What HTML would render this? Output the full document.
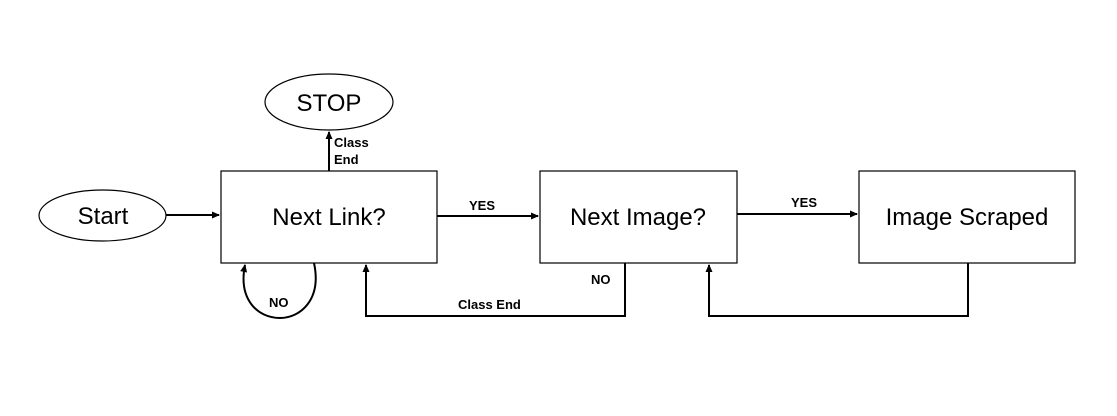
<!DOCTYPE html>
<html><head><style>body{margin:0;background:#fff}</style></head><body>
<svg width="1117" height="411" xmlns="http://www.w3.org/2000/svg" font-family="Liberation Sans, sans-serif">
<defs><marker id="a" markerWidth="8" markerHeight="8" refX="7" refY="4" orient="auto" markerUnits="userSpaceOnUse"><path d="M0,0.5 L8,4 L0,7.5z" fill="#000"/></marker></defs>
<rect width="1117" height="411" fill="#fff"/>
<g fill="#fff" stroke="#000" stroke-width="1.2">
<ellipse cx="329" cy="102" rx="64" ry="28"/>
<ellipse cx="102.5" cy="215.5" rx="63.5" ry="25.5"/>
<rect x="221" y="171" width="216" height="92"/>
<rect x="540" y="171" width="197" height="92"/>
<rect x="859" y="171" width="216" height="92"/>
</g>
<g stroke="#000" stroke-width="2" fill="none" marker-end="url(#a)">
<line x1="329" y1="171" x2="329" y2="132"/>
<line x1="166" y1="215" x2="219" y2="215"/>
<line x1="437" y1="216" x2="538" y2="216"/>
<line x1="737" y1="214" x2="857" y2="214"/>
<path d="M314,263 C322,300 300,318 280,318 C258,318 238,300 245,265"/>
<path d="M625,263 V316 H366 V265"/>
<path d="M968,263 V316 H709 V265"/>
</g>
<g text-anchor="middle" fill="#000">
<text x="329" y="111" font-size="24">STOP</text>
<text x="103" y="224" font-size="24">Start</text>
<text x="329" y="225" font-size="24">Next Link?</text>
<text x="638" y="225" font-size="24">Next Image?</text>
<text x="967" y="225" font-size="24">Image Scraped</text>
</g>
<g font-size="13" font-weight="bold" fill="#000">
<text x="334" y="147">Class</text>
<text x="334" y="164">End</text>
<text x="469" y="210">YES</text>
<text x="791" y="207">YES</text>
<text x="591" y="284">NO</text>
<text x="269" y="307">NO</text>
<text x="458" y="309">Class End</text>
</g>
</svg>
</body></html>
